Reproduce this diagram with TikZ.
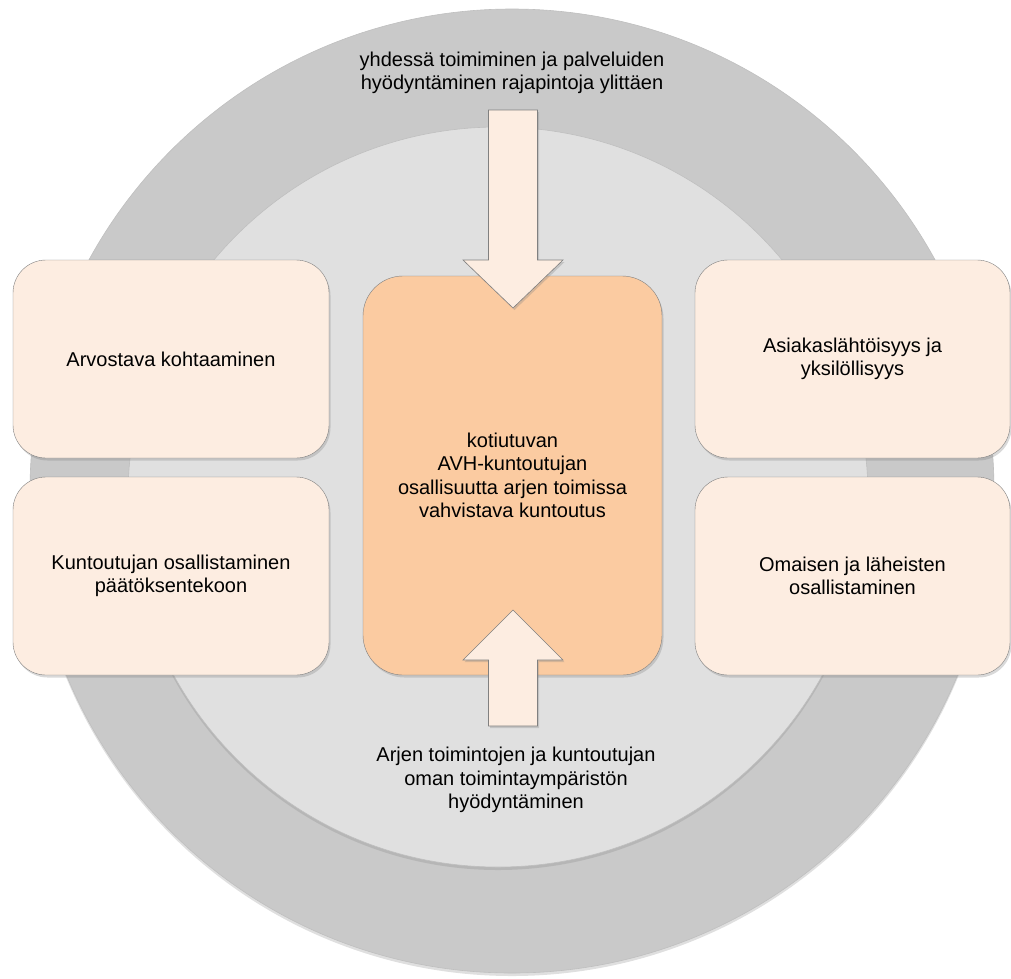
\documentclass[tikz,border=0pt]{standalone}
\usepackage{fontspec}
\setmainfont{Liberation Sans}
\usetikzlibrary{shadows,positioning}
\definecolor{ringGray}{RGB}{201,201,201}
\definecolor{coreGray}{RGB}{224,224,224}
\definecolor{peachLight}{RGB}{253,237,225}
\definecolor{peachDark}{RGB}{251,203,161}
\definecolor{edgeGray}{RGB}{128,128,128}

\begin{document}
\begin{tikzpicture}[x=1pt,y=-1pt,
  disc/.style={circle,inner sep=0pt,draw=edgeGray!50,line width=0.6pt,
               drop shadow={opacity=0.25,shadow xshift=0pt,shadow yshift=-3pt}},
  side/.style={rectangle,draw=edgeGray,fill=peachLight,rounded corners=33pt,
               minimum width=316pt,minimum height=198pt,align=center,
               font=\fontsize{20}{23.5}\selectfont,
               drop shadow={opacity=0.3,shadow xshift=1.5pt,shadow yshift=-2.5pt}},
  hub/.style={rectangle,draw=edgeGray,fill=peachDark,rounded corners=40pt,
              minimum width=299pt,minimum height=399pt,align=center,
              font=\fontsize{20}{23.5}\selectfont,
              drop shadow={opacity=0.3,shadow xshift=1.5pt,shadow yshift=-2.5pt}},
  blockarr/.style={draw=edgeGray,fill=peachLight,line width=0.6pt,line join=miter,
                   drop shadow={opacity=0.3,shadow xshift=1.5pt,shadow yshift=-2pt}},
  lbl/.style={align=center,font=\fontsize{20}{23.5}\selectfont}
]
  \useasboundingbox (0,0) rectangle (1011,978);
  % background discs
  \node[disc,fill=ringGray,minimum size=964pt] (ring) at (512,491) {};
  \node[disc,fill=coreGray,minimum size=740pt] (core) at (498,497) {};

  % side boxes
  \node[side] (lt) at (171,359) {Arvostava kohtaaminen};
  \node[side] (lb) at (171,576) {Kuntoutujan osallistaminen\\päätöksentekoon};
  \node[side,minimum width=315pt] (rt) at (852.5,359) {Asiakaslähtöisyys ja\\yksilöllisyys};
  \node[side,minimum width=315pt] (rb) at (852.5,576) {Omaisen ja läheisten\\osallistaminen};

  % centre
  \node[hub] (hubbox) at (512.5,475.5) {kotiutuvan\\AVH-kuntoutujan\\osallisuutta arjen toimissa\\vahvistava kuntoutus};

  % block arrows
  \coordinate (intip) at (513,308);
  \coordinate (uptip) at (513,610);
  \draw[blockarr] (intip) -- ++(-50,-48) -- ++(25.5,0) -- ++(0,-150) -- ++(49,0)
                  -- ++(0,150) -- ++(25.5,0) -- cycle;
  \draw[blockarr] (uptip) -- ++(-50,50) -- ++(25.5,0) -- ++(0,66) -- ++(49,0)
                  -- ++(0,-66) -- ++(25.5,0) -- cycle;

  % labels
  \node[lbl] (toptxt) at (512,73) {yhdessä toimiminen ja palveluiden\\hyödyntäminen rajapintoja ylittäen};
  \node[lbl] (bottxt) at (516,780) {Arjen toimintojen ja kuntoutujan\\oman toimintaympäristön\\hyödyntäminen};
\end{tikzpicture}
\end{document}
